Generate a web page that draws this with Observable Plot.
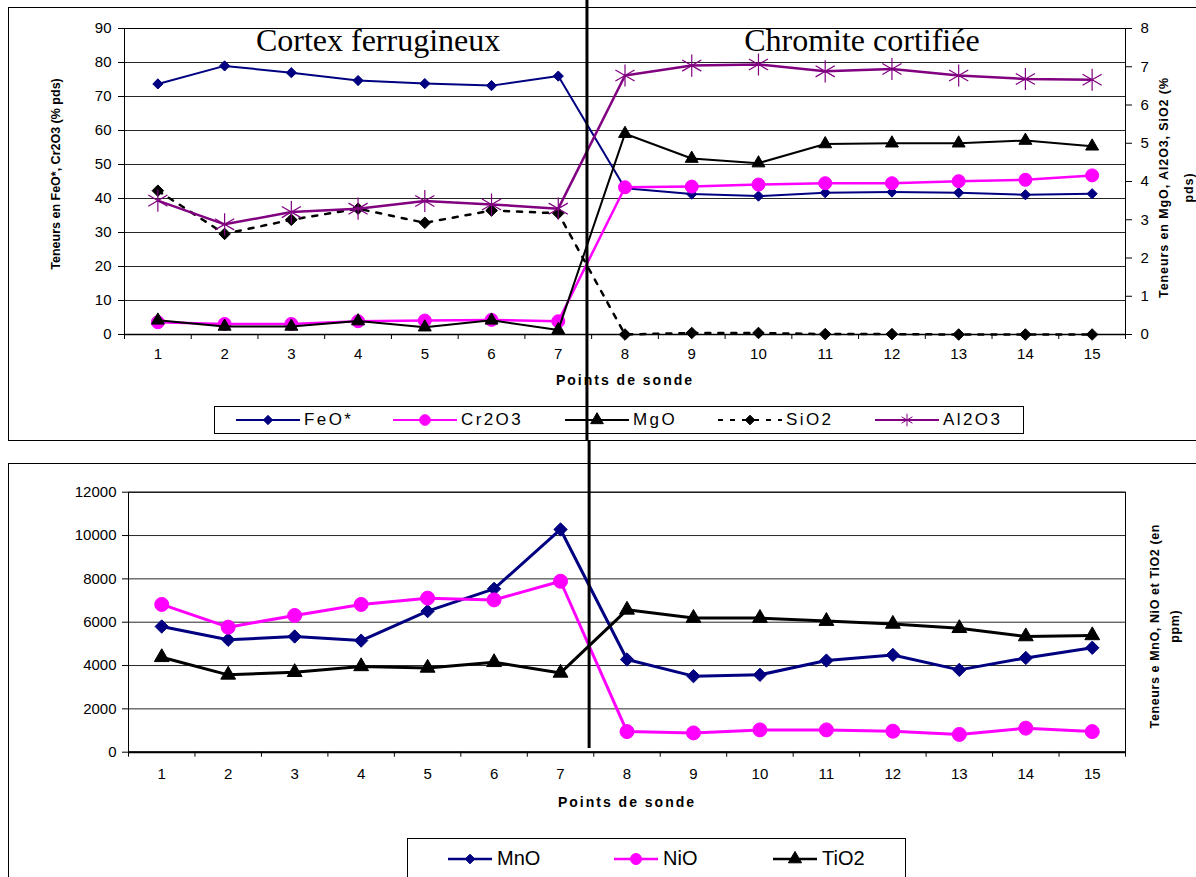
<!DOCTYPE html>
<html><head><meta charset="utf-8">
<script src="https://cdn.jsdelivr.net/npm/d3@7"></script>
<script src="https://cdn.jsdelivr.net/npm/@observablehq/plot@0.6"></script>
<style>
html,body{margin:0;padding:0;background:#fff;}
#page{position:relative;width:1196px;height:877px;overflow:hidden;font-family:"Liberation Sans",Arial,sans-serif;}
.box{position:absolute;border:1px solid #000;box-sizing:border-box;}
.legend{position:absolute;border:1px solid #000;background:#fff;box-sizing:border-box;}
.item{position:absolute;display:flex;align-items:center;white-space:nowrap;color:#000;}
.item svg{display:block;}
.plotwrap{position:absolute;left:0;pointer-events:none;}
.plotwrap svg{display:block;}
</style></head>
<body><div id="page">
<div class="box" style="left:8px;top:7px;width:1200px;height:434px"></div>
<div class="box" style="left:8px;top:463px;width:1200px;height:440px"></div>
<div id="leg1" class="legend" style="left:214px;top:406px;width:810px;height:28px"></div>
<div id="leg2" class="legend" style="left:407px;top:838px;width:499px;height:60px"></div>
<div id="top" class="plotwrap" style="top:0"></div>
<div id="bot" class="plotwrap" style="top:440px"></div>
</div>
<script>
// ---- data ----
const points = [1,2,3,4,5,6,7,8,9,10,11,12,13,14,15];
// top chart, left axis (% pds)
const feo   = [73.7, 79.0, 77.0, 74.7, 73.8, 73.2, 76.0, 43.0, 41.3, 40.7, 41.7, 41.9, 41.7, 41.1, 41.4];
const cr2o3 = [3.6, 3.1, 3.1, 3.9, 4.1, 4.3, 3.9, 43.3, 43.5, 44.1, 44.5, 44.5, 45.1, 45.5, 46.8];
// top chart, right axis (% pds)
const mgo   = [0.37, 0.21, 0.21, 0.35, 0.19, 0.37, 0.12, 5.25, 4.60, 4.48, 4.98, 5.00, 5.00, 5.07, 4.92];
const sio2  = [3.76, 2.63, 3.00, 3.29, 2.92, 3.24, 3.17, 0.00, 0.04, 0.04, 0.01, 0.01, 0.00, 0.00, 0.00];
const al2o3 = [3.50, 2.88, 3.20, 3.29, 3.49, 3.40, 3.29, 6.77, 7.03, 7.06, 6.88, 6.94, 6.77, 6.68, 6.66];
// bottom chart (ppm)
const mno  = [5800, 5190, 5340, 5150, 6510, 7540, 10280, 4280, 3510, 3570, 4230, 4490, 3800, 4350, 4820];
const nio  = [6820, 5770, 6310, 6820, 7110, 7030, 7890, 950, 890, 1030, 1030, 970, 820, 1110, 950];
const tio2 = [4380, 3570, 3690, 3960, 3890, 4150, 3660, 6570, 6190, 6190, 6050, 5920, 5720, 5340, 5390];
// tick labels
const leftTicks  = [0,10,20,30,40,50,60,70,80,90];
const rightTicks = [0,1,2,3,4,5,6,7,8];
const botTicks   = [0,2000,4000,6000,8000,10000,12000];
// zone boundary (between probe points 7 and 8) and zone names
const boundary = 7.43;
const zones = ["Cortex ferrugineux", "Chromite cortifiée"];

// ---- helpers ----
const NAVY = "#000080", MAG = "#FF00FF", PURP = "#800080", BLK = "#000";
const k = 90 / 8; // right axis (0–8) mapped onto left axis (0–90)
const topRows = points.map((p, i) => ({p, feo: feo[i], cr: cr2o3[i], mgo: mgo[i], sio2: sio2[i], al: al2o3[i]}));
const botRows = points.map((p, i) => ({p, mno: mno[i], nio: nio[i], tio2: tio2[i]}));
const bounds = points.map(p => p - 0.5).concat([points[points.length - 1] + 0.5]);
const SANS = "'Liberation Sans', Arial, sans-serif";
const SERIF = "'Liberation Serif', 'Times New Roman', serif";
const TF = 15;

const topPlot = Plot.plot({
  width: 1196, height: 440,
  marginLeft: 124, marginRight: 71, marginTop: 28, marginBottom: 106,
  style: {background: "transparent", fontFamily: SANS, fontSize: "14px", color: "#000", overflow: "visible"},
  x: {type: "linear", domain: [0.5, 15.5]},
  y: {domain: [0, 90]},
  marks: [
    Plot.gridY(leftTicks, {stroke: "#000", strokeOpacity: 0.85}),
    Plot.frame({stroke: "#000"}),
    Plot.ruleY([0], {stroke: "#000", strokeWidth: 1.5}),
    Plot.axisY(leftTicks, {anchor: "left", tickSize: 6, tickPadding: 7, fontSize: TF, label: null}),
    Plot.axisY(rightTicks.map(v => v * k), {anchor: "right", tickSize: 6, tickPadding: 9, fontSize: TF, label: null,
      tickFormat: d => String(Math.round(d / k))}),
    Plot.axisX(points, {anchor: "bottom", tickSize: 0, tickPadding: 14, fontSize: TF, label: null}),
    Plot.axisX(bounds, {anchor: "bottom", tickSize: 5, tickFormat: () => "", label: null}),
    Plot.text([zones[0]], {x: 4.3, frameAnchor: "top", lineAnchor: "top", fontFamily: SERIF, fontSize: 32, fill: "#000"}),
    Plot.text([zones[1]], {x: 11.55, frameAnchor: "top", lineAnchor: "top", fontFamily: SERIF, fontSize: 32, fill: "#000"}),
    // FeO*
    Plot.line(topRows, {x: "p", y: "feo", stroke: NAVY, strokeWidth: 2}),
    Plot.dot(topRows, {x: "p", y: "feo", symbol: "diamond2", fill: NAVY, stroke: NAVY, strokeWidth: 1, r: 4.6}),
    // Cr2O3
    Plot.line(topRows, {x: "p", y: "cr", stroke: MAG, strokeWidth: 2.5}),
    Plot.dot(topRows, {x: "p", y: "cr", symbol: "circle", fill: MAG, stroke: MAG, strokeWidth: 1, r: 6.5}),
    // MgO (right axis)
    Plot.line(topRows, {x: "p", y: d => d.mgo * k, stroke: BLK, strokeWidth: 2}),
    Plot.dot(topRows, {x: "p", y: d => d.mgo * k, symbol: "triangle", fill: BLK, stroke: BLK, strokeWidth: 1, r: 4.8}),
    // SiO2 (right axis)
    Plot.line(topRows, {x: "p", y: d => d.sio2 * k, stroke: BLK, strokeWidth: 2.5, strokeDasharray: "5,8"}),
    Plot.dot(topRows, {x: "p", y: d => d.sio2 * k, symbol: "diamond2", fill: BLK, stroke: BLK, strokeWidth: 1, r: 5.2}),
    // Al2O3 (right axis)
    Plot.line(topRows, {x: "p", y: d => d.al * k, stroke: PURP, strokeWidth: 2.5}),
    Plot.dot(topRows, {x: "p", y: d => d.al * k, symbol: "asterisk", fill: "none", stroke: PURP, strokeWidth: 1.2, r: 10.5}),
    // axis titles
    Plot.text(["Points de sonde"], {frameAnchor: "bottom", dy: 46.5, lineAnchor: "middle", fontWeight: "bold", fontSize: 14, fill: "#000"}),
    Plot.text(["Teneurs en FeO*, Cr2O3 (% pds)"], {frameAnchor: "left", rotate: -90, dx: -69, dy: -7.5, textAnchor: "middle",
      lineAnchor: "middle", fontWeight: "bold", fontSize: 12.5, fill: "#000"}),
    Plot.text(["Teneurs en MgO, Al2O3, SiO2 (%\npds)"], {frameAnchor: "right", rotate: -90, dx: 46.7, dy: 6, textAnchor: "middle",
      lineAnchor: "middle", lineHeight: 2.05, fontWeight: "bold", fontSize: 12.5, fill: "#000"}),
    // separator
    Plot.ruleX([boundary], {stroke: "#000", strokeWidth: 3, insetTop: -28, insetBottom: -106})
  ]
});

const botPlot = Plot.plot({
  width: 1196, height: 437,
  marginLeft: 128, marginRight: 71, marginTop: 51.7, marginBottom: 125.3,
  style: {background: "transparent", fontFamily: SANS, fontSize: "14px", color: "#000", overflow: "visible"},
  x: {type: "linear", domain: [0.5, 15.5]},
  y: {domain: [0, 12000]},
  marks: [
    Plot.gridY(botTicks, {stroke: "#000", strokeOpacity: 0.85}),
    Plot.frame({stroke: "#000"}),
    Plot.ruleY([0], {stroke: "#000", strokeWidth: 2}),
    Plot.axisY(botTicks, {anchor: "left", tickSize: 6, tickPadding: 6, fontSize: TF, label: null, tickFormat: d => String(d)}),
    Plot.axisX(points, {anchor: "bottom", tickSize: 0, tickPadding: 16, fontSize: TF, label: null}),
    Plot.axisX(bounds, {anchor: "bottom", tickSize: 5, tickFormat: () => "", label: null}),
    // MnO
    Plot.line(botRows, {x: "p", y: "mno", stroke: NAVY, strokeWidth: 3}),
    Plot.dot(botRows, {x: "p", y: "mno", symbol: "diamond2", fill: NAVY, stroke: NAVY, strokeWidth: 1, r: 6}),
    // NiO
    Plot.line(botRows, {x: "p", y: "nio", stroke: MAG, strokeWidth: 3}),
    Plot.dot(botRows, {x: "p", y: "nio", symbol: "circle", fill: MAG, stroke: MAG, strokeWidth: 1, r: 7}),
    // TiO2
    Plot.line(botRows, {x: "p", y: "tio2", stroke: BLK, strokeWidth: 3}),
    Plot.dot(botRows, {x: "p", y: "tio2", symbol: "triangle", fill: BLK, stroke: BLK, strokeWidth: 1, r: 5.5}),
    Plot.text(["Points de sonde"], {frameAnchor: "bottom", dy: 50.8, lineAnchor: "middle", fontWeight: "bold", fontSize: 14, fill: "#000"}),
    Plot.text(["Teneurs e MnO, NiO et TiO2 (en\nppm)"], {frameAnchor: "right", rotate: -90, dx: 37.5, dy: 4, textAnchor: "middle",
      lineAnchor: "middle", lineHeight: 1.6, fontWeight: "bold", fontSize: 12.5, fill: "#000"}),
    Plot.ruleX([boundary], {stroke: "#000", strokeWidth: 3, insetTop: -51.7, insetBottom: 3.7})
  ]
});

function spacing(svg, prefix, ls) {
  d3.select(svg).selectAll("text").filter(function () { return this.textContent.startsWith(prefix); })
    .attr("letter-spacing", ls);
}
spacing(topPlot, "Points de sonde", "2px");
spacing(botPlot, "Points de sonde", "2px");
spacing(topPlot, "Teneurs en MgO", "0.9px");
spacing(botPlot, "Teneurs e MnO", "0.6px");

document.getElementById("top").appendChild(topPlot);
document.getElementById("bot").appendChild(botPlot);

// ---- legends ----
function swatch(w, color, sym, size, fill, sw, dash) {
  const p = d3.symbol(sym, size)();
  return `<svg width="${w}" height="22"><line x1="0" x2="${w}" y1="11" y2="11" stroke="${color}" stroke-width="${sw}"${dash ? ` stroke-dasharray="${dash}"` : ""}/>` +
    `<path transform="translate(${w / 2},11)" d="${p}" fill="${fill}" stroke="${color}" stroke-width="1"/></svg>`;
}
const leg1 = [
  {name: "FeO*", c: NAVY, s: d3.symbolDiamond2, z: 55, f: NAVY, left: 21},
  {name: "Cr2O3", c: MAG, s: d3.symbolCircle, z: 90, f: MAG, left: 178},
  {name: "MgO", c: BLK, s: d3.symbolTriangle, z: 70, f: BLK, left: 350},
  {name: "SiO2", c: BLK, s: d3.symbolDiamond2, z: 60, f: BLK, left: 503, dash: "5,7"},
  {name: "Al2O3", c: PURP, s: d3.symbolAsterisk, z: 110, f: "none", left: 660}
];
const L1 = document.getElementById("leg1");
leg1.forEach(d => {
  const el = document.createElement("div");
  el.className = "item";
  el.style.cssText = `left:${d.left}px;top:2px;font-size:17px;letter-spacing:2.4px;`;
  el.innerHTML = swatch(64, d.c, d.s, d.z, d.f, 2, d.dash) + `<span style="margin-left:4px">${d.name}</span>`;
  L1.appendChild(el);
});
const leg2 = [
  {name: "MnO", c: NAVY, s: d3.symbolDiamond2, z: 60, f: NAVY, left: 40},
  {name: "NiO", c: MAG, s: d3.symbolCircle, z: 95, f: MAG, left: 206},
  {name: "TiO2", c: BLK, s: d3.symbolTriangle, z: 75, f: BLK, left: 365}
];
const L2 = document.getElementById("leg2");
leg2.forEach(d => {
  const el = document.createElement("div");
  el.className = "item";
  el.style.cssText = `left:${d.left}px;top:8px;font-size:20px;`;
  el.innerHTML = swatch(44, d.c, d.s, d.z, d.f, 2.5) + `<span style="margin-left:5px">${d.name}</span>`;
  L2.appendChild(el);
});
</script>
</body></html>
